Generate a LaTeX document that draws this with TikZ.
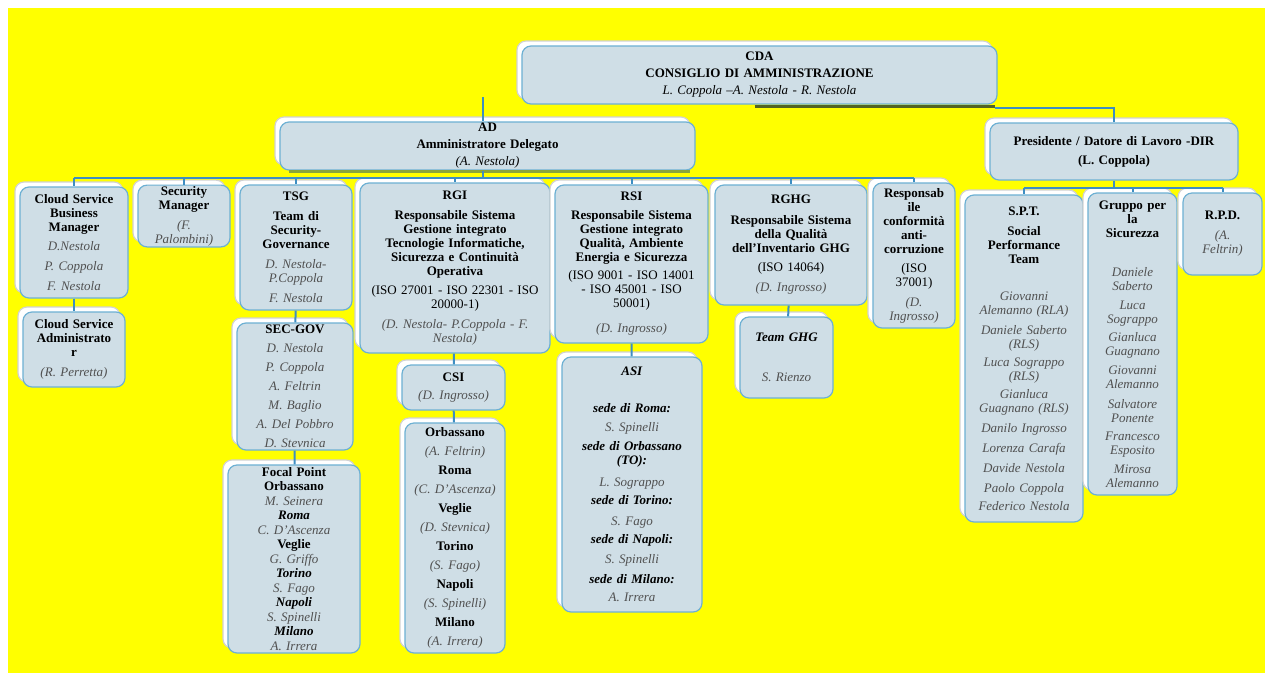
\documentclass[tikz,border=0pt]{standalone}
\usepackage{fontspec}
\setmainfont{Liberation Serif}
\usepackage{xcolor}
\usetikzlibrary{shadows}
\tikzset{>=latex}
\definecolor{bgyellow}{HTML}{FFFF00}
\definecolor{cardfill}{HTML}{CFDEE6}
\definecolor{cardedge}{HTML}{6DB0D3}
\definecolor{linkblue}{HTML}{3E8EC2}
\definecolor{namegray}{HTML}{505050}
\definecolor{stripgreen}{HTML}{8AA53A}
\newcommand{\cardfont}{\fontsize{13}{14}\selectfont}
\newcommand{\nm}[1]{\textit{\textcolor{namegray}{#1}}}
\newcommand{\bi}[1]{\textbf{\textit{#1}}}
\tikzstyle{card}=[draw=cardedge,line width=1.2pt,fill=cardfill,rounded corners=9pt,
  align=center,inner xsep=0pt,inner ysep=1pt,font=\cardfont,
  copy shadow={shadow xshift=-5pt,shadow yshift=5pt,draw=gray!35,fill=white}]
\tikzstyle{link}=[linkblue,line width=2pt]
\tikzset{boxsize/.style 2 args={text width=#1pt,minimum height=#2pt}}

\begin{document}
\begin{tikzpicture}[x=1pt,y=-1pt]

  % page + yellow background
  \useasboundingbox (0,0) rectangle (1272,681);
  \fill[white] (0,0) rectangle (1272,681);
  \fill[bgyellow] (8,8) rectangle (1265,673);

  % top level
  \node[card,boxsize={475}{58}] (cda) at (759.5,75)
    {\textbf{CDA}\\[3pt] \textbf{CONSIGLIO DI AMMINISTRAZIONE}\\[3pt]
     \textit{L. Coppola –A. Nestola - R. Nestola}};
  \node[card,boxsize={415}{48}] (ad) at (487.5,146)
    {\textbf{AD}\\[3pt] \textbf{Amministratore Delegato}\\[3pt] \textit{(A. Nestola)}};
  \node[card,boxsize={248}{57}] (pres) at (1114,151.5)
    {\textbf{Presidente / Datore di Lavoro -DIR}\\[5pt] \textbf{(L. Coppola)}};

  % second level (AD)
  \node[card,boxsize={108}{111}] (csbm) at (74,242.5)
    {\textbf{Cloud Service}\\ \textbf{Business}\\ \textbf{Manager}\\[5pt]
     \nm{D.Nestola}\\[6pt] \nm{P. Coppola}\\[6pt] \nm{F. Nestola}};
  \node[card,boxsize={92}{58}] (secman) at (184,216)
    {\textbf{Security}\\ \textbf{Manager}\\[6pt] \nm{(F.}\\ \nm{Palombini)}};
  \node[card,boxsize={112}{125}] (tsg) at (296,247.5)
    {\textbf{TSG}\\[6pt] \textbf{Team di}\\ \textbf{Security-}\\ \textbf{Governance}\\[6pt]
     \nm{D. Nestola-}\\ \nm{P.Coppola}\\[6pt] \nm{F. Nestola}};
  \node[card,boxsize={190}{170}] (rgi) at (455,268)
    {\textbf{RGI}\\[6pt] \textbf{Responsabile Sistema}\\ \textbf{Gestione integrato}\\
     \textbf{Tecnologie Informatiche,}\\ \textbf{Sicurezza e Continuità}\\ \textbf{Operativa}\\[5pt]
     (ISO 27001 - ISO 22301 - ISO\\ 20000-1)\\[6pt]
     \nm{(D. Nestola- P.Coppola - F.}\\ \nm{Nestola)}};
  \node[card,boxsize={153}{158}] (rsi) at (631.5,264)
    {\textbf{RSI}\\[5pt] \textbf{Responsabile Sistema}\\ \textbf{Gestione integrato}\\
     \textbf{Qualità, Ambiente}\\ \textbf{Energia e Sicurezza}\\[4pt]
     (ISO 9001 - ISO 14001\\ - ISO 45001 - ISO\\ 50001)\\[11pt] \nm{(D. Ingrosso)}};
  \node[card,boxsize={152}{120}] (rghg) at (791,245)
    {\textbf{RGHG}\\[7pt] \textbf{Responsabile Sistema}\\ \textbf{della Qualità}\\
     \textbf{dell'Inventario GHG}\\[5pt] (ISO 14064)\\[6pt] \nm{(D. Ingrosso)}};
  \node[card,boxsize={82}{145}] (rcac) at (914,255.5)
    {\textbf{Responsab}\\ \textbf{ile}\\ \textbf{conformità}\\ \textbf{anti-}\\ \textbf{corruzione}\\[5pt]
     (ISO\\ 37001)\\[6pt] \nm{(D.}\\ \nm{Ingrosso)}};

  % second level (Presidente)
  \node[card,boxsize={118}{327}] (spt) at (1024,358.5)
    {\textbf{S.P.T.}\\[6pt] \textbf{Social}\\ \textbf{Performance}\\ \textbf{Team}\\[23pt]
     \nm{Giovanni}\\ \nm{Alemanno (RLA)}\\[6pt] \nm{Daniele Saberto}\\ \nm{(RLS)}\\[4pt]
     \nm{Luca Sograppo}\\ \nm{(RLS)}\\[4pt] \nm{Gianluca}\\ \nm{Guagnano (RLS)}\\[6pt]
     \nm{Danilo Ingrosso}\\[6pt] \nm{Lorenza Carafa}\\[6pt] \nm{Davide Nestola}\\[6pt]
     \nm{Paolo Coppola}\\[4pt] \nm{Federico Nestola}};
  \node[card,boxsize={89}{302}] (gruppo) at (1132.5,344)
    {\textbf{Gruppo per}\\ \textbf{la}\\ \textbf{Sicurezza}\\[25pt]
     \nm{Daniele}\\ \nm{Saberto}\\[5pt] \nm{Luca}\\ \nm{Sograppo}\\[4pt]
     \nm{Gianluca}\\ \nm{Guagnano}\\[5pt] \nm{Giovanni}\\ \nm{Alemanno}\\[6pt]
     \nm{Salvatore}\\ \nm{Ponente}\\[4pt] \nm{Francesco}\\ \nm{Esposito}\\[5pt]
     \nm{Mirosa}\\ \nm{Alemanno}};
  \node[card,boxsize={79}{82}] (rpd) at (1222.5,234)
    {\textbf{R.P.D.}\\[6pt] \nm{(A.}\\ \nm{Feltrin)}};

  % third level
  \node[card,boxsize={102}{75}] (csa) at (74,349.5)
    {\textbf{Cloud Service}\\ \textbf{Administrato}\\ \textbf{r}\\[6pt] \nm{(R. Perretta)}};
  \node[card,boxsize={116}{127}] (secgov) at (295,386.5)
    {\textbf{SEC-GOV}\\[5pt] \nm{D. Nestola}\\[5pt] \nm{P. Coppola}\\[5pt] \nm{A. Feltrin}\\[5pt]
     \nm{M. Baglio}\\[5pt] \nm{A. Del Pobbro}\\[5pt] \nm{D. Stevnica}};
  \node[card,boxsize={132}{188}] (focal) at (294,559)
    {\textbf{Focal Point}\\ \textbf{Orbassano}\\[0.5pt] \nm{M. Seinera}\\[0.5pt] \bi{Roma}\\[0.5pt]
     \nm{C. D'Ascenza}\\[0.5pt] \textbf{Veglie}\\[0.5pt] \nm{G. Griffo}\\[0.5pt] \bi{Torino}\\[0.5pt]
     \nm{S. Fago}\\[0.5pt] \bi{Napoli}\\[0.5pt] \nm{S. Spinelli}\\[0.5pt] \bi{Milano}\\[0.5pt] \nm{A. Irrera}};
  \node[card,boxsize={103}{45}] (csi) at (453.5,387.5)
    {\textbf{CSI}\\[4pt] \nm{(D. Ingrosso)}};
  \node[card,boxsize={100}{230}] (sites) at (455,538)
    {\textbf{Orbassano}\\[5pt] \nm{(A. Feltrin)}\\[5pt] \textbf{Roma}\\[5pt] \nm{(C. D'Ascenza)}\\[5pt]
     \textbf{Veglie}\\[5pt] \nm{(D. Stevnica)}\\[5pt] \textbf{Torino}\\[5pt] \nm{(S. Fago)}\\[5pt]
     \textbf{Napoli}\\[5pt] \nm{(S. Spinelli)}\\[5pt] \textbf{Milano}\\[5pt] \nm{(A. Irrera)}};
  \node[card,boxsize={140}{255}] (asi) at (632,484.5)
    {\bi{ASI}\\[23pt] \bi{sede di Roma:}\\[5pt] \nm{S. Spinelli}\\[5pt]
     \bi{sede di Orbassano}\\ \bi{(TO):}\\[8pt] \nm{L. Sograppo}\\[4pt] \bi{sede di Torino:}\\[7pt]
     \nm{S. Fago}\\[4pt] \bi{sede di Napoli:}\\[6pt] \nm{S. Spinelli}\\[6pt]
     \bi{sede di Milano:}\\[4pt] \nm{A. Irrera}};
  \node[card,boxsize={93}{81}] (teamghg) at (786.5,357.5)
    {\bi{Team GHG}\\[26pt] \nm{S. Rienzo}};

  % green strips
  \draw[stripgreen,line width=3.5pt]
    ([xshift=10pt,yshift=-1pt]ad.south west) -- ([xshift=-6pt,yshift=-1pt]ad.south east);
  \draw[stripgreen!60!black,line width=3pt]
    ([xshift=-5pt,yshift=-2pt]cda.south) -- ([xshift=-3pt,yshift=-2pt]cda.south east);

  % connectors from the top
  \coordinate (cdastub) at (483,97);
  \draw[link] (cdastub) -- (cdastub |- ad.north);
  \draw[link] ([xshift=-3pt,yshift=-3pt]cda.south east) -| (pres.north);

  % AD bus
  \coordinate (bus) at (483,178);
  \draw[link] (ad.south -| bus) -- (bus);
  \draw[link] (csbm.north |- bus) -- (rcac.north |- bus);
  \foreach \n in {csbm,secman,tsg,rgi,rsi,rghg,rcac}
    \draw[link] (\n.north |- bus) -- (\n.north);

  % Presidente bus
  \coordinate (pbus) at (1114,188);
  \draw[link] (pres.south) -- (pbus);
  \draw[link] (spt.north |- pbus) -- (rpd.north |- pbus);
  \foreach \n in {spt,gruppo,rpd}
    \draw[link] (\n.north |- pbus) -- (\n.north);

  % chains
  \draw[link] (csbm) -- (csa);
  \draw[link] (tsg) -- (secgov);
  \draw[link] (secgov) -- (focal);
  \draw[link] (rgi) -- (csi);
  \draw[link] (csi) -- (sites);
  \draw[link] (rsi) -- (asi);
  \draw[link] (rghg) -- (teamghg);

\end{tikzpicture}
\end{document}
